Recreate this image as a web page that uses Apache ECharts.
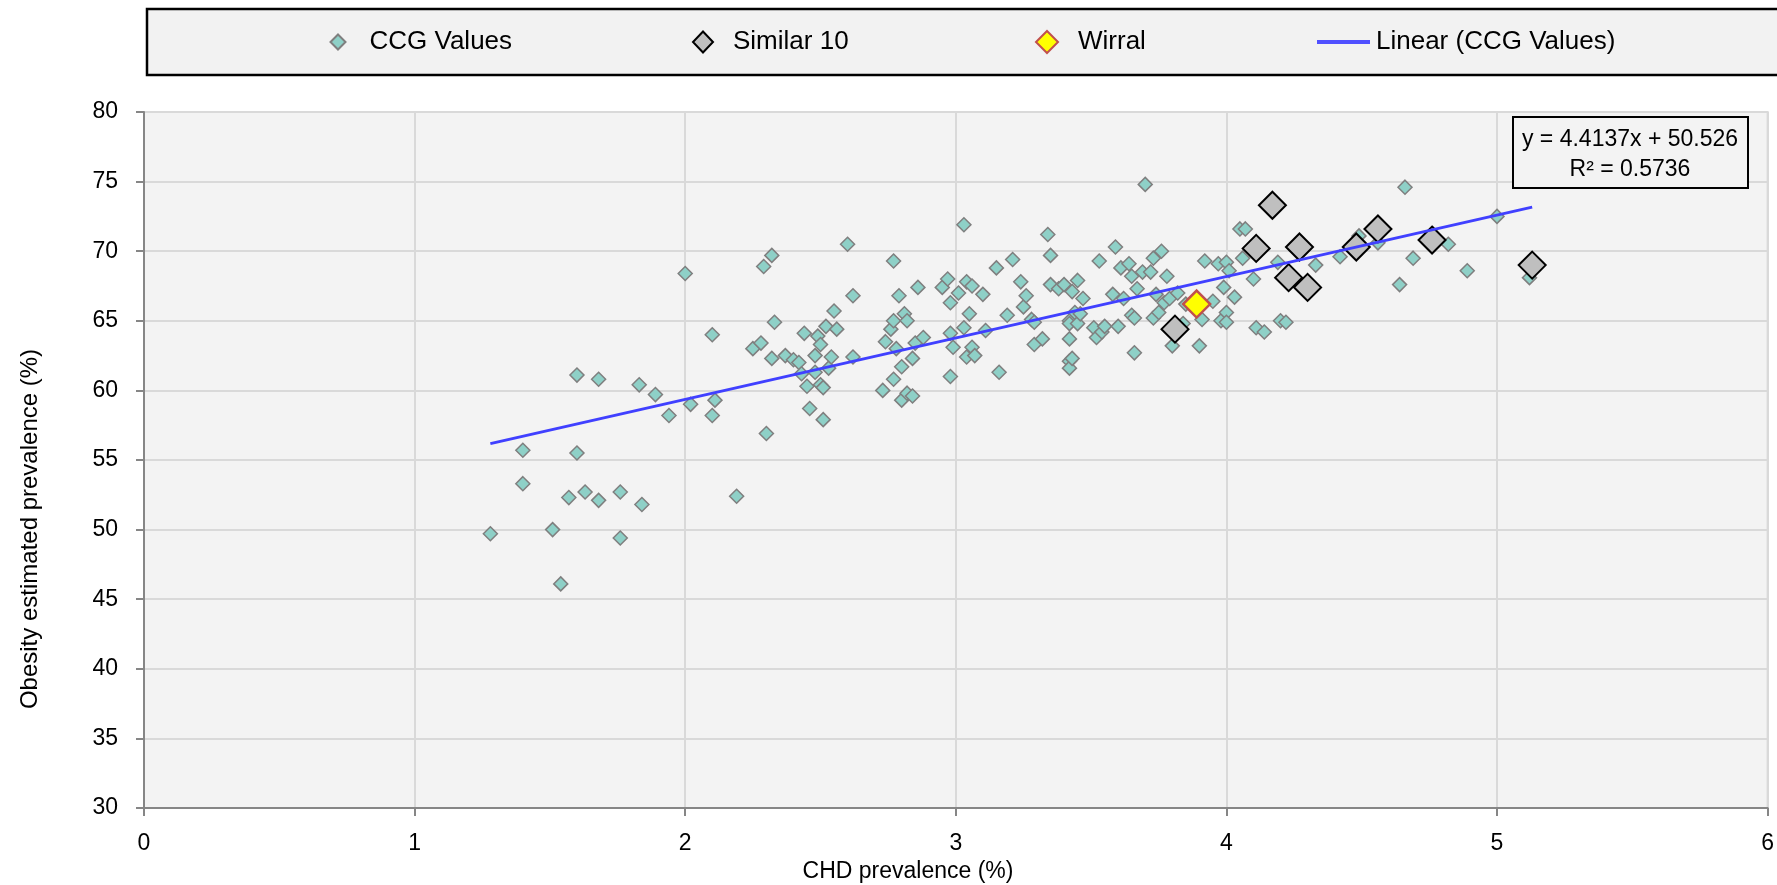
<!DOCTYPE html>
<html>
<head>
<meta charset="utf-8">
<script src="https://cdn.jsdelivr.net/npm/echarts@6/dist/echarts.min.js"></script>
<style>
html,body{margin:0;padding:0;background:#fff;}
#chart{width:1777px;height:885px;}
</style>
</head>
<body>
<div id="chart"></div>
<script>
// ---- data ----
const ccgX = [1.28,1.40,1.40,1.51,1.54,1.57,1.60,1.60,1.63,1.68,1.68,1.76,1.76,1.83,1.84,1.89,1.94,2.00,2.02,2.10,
  2.10,2.11,2.19,2.25,2.28,2.29,2.30,2.32,2.32,2.33,2.37,2.40,2.42,2.43,2.44,2.45,2.46,2.48,2.48,2.49,
  2.50,2.50,2.51,2.51,2.52,2.53,2.54,2.55,2.56,2.60,2.62,2.62,2.73,2.74,2.76,2.77,2.77,2.77,2.78,2.79,
  2.80,2.80,2.81,2.82,2.82,2.84,2.84,2.85,2.86,2.88,2.95,2.97,2.98,2.98,2.98,2.99,3.01,3.03,3.03,3.04,
  3.04,3.05,3.06,3.06,3.07,3.10,3.11,3.15,3.16,3.19,3.21,3.24,3.25,3.26,3.28,3.29,3.29,3.32,3.34,3.35,
  3.35,3.38,3.40,3.42,3.42,3.42,3.42,3.42,3.43,3.43,3.44,3.45,3.45,3.46,3.47,3.51,3.52,3.53,3.54,3.55,
  3.58,3.59,3.60,3.61,3.62,3.64,3.65,3.65,3.66,3.66,3.67,3.69,3.70,3.72,3.73,3.73,3.74,3.75,3.76,3.77,
  3.78,3.79,3.80,3.82,3.84,3.85,3.90,3.91,3.92,3.95,3.97,3.98,3.99,4.00,4.00,4.00,4.01,4.03,4.05,4.07,
  4.06,4.10,4.11,4.14,4.19,4.20,4.22,4.33,4.42,4.49,4.56,4.64,4.66,4.69,4.82,4.89,5.00,5.12];
const ccgY = [49.7,55.7,53.3,50.0,46.1,52.3,61.1,55.5,52.7,60.8,52.1,52.7,49.4,60.4,51.8,59.7,58.2,68.4,59.0,64.0,
  58.2,59.3,52.4,63.0,63.4,68.9,56.9,69.7,62.3,64.9,62.5,62.2,62.0,61.2,64.1,60.3,58.7,61.3,62.5,63.9,
  63.3,60.4,57.9,60.2,64.6,61.6,62.4,65.7,64.4,70.5,66.8,62.4,60.0,63.5,64.4,69.3,65.0,60.8,63.0,66.8,
  59.3,61.7,65.5,59.8,65.0,59.6,62.3,63.4,67.4,63.8,67.4,68.0,64.1,61.0,66.3,63.1,67.0,71.9,64.5,62.4,
  67.8,65.5,67.5,63.1,62.5,66.9,64.3,68.8,61.3,65.4,69.4,67.8,66.0,66.8,65.1,63.3,64.9,63.7,71.2,69.7,
  67.6,67.3,67.6,65.0,62.1,61.6,64.8,63.7,67.1,62.3,65.6,67.9,64.8,65.5,66.6,64.5,63.8,69.3,64.2,64.6,
  66.9,70.3,64.6,68.8,66.6,69.1,65.4,68.2,65.2,62.7,67.3,68.5,74.8,68.5,65.2,69.5,66.9,65.6,70.0,66.3,
  68.2,66.6,63.2,67.0,64.8,66.2,63.2,65.1,69.3,66.4,69.1,65.0,67.4,69.2,65.6,64.9,68.6,66.7,71.6,71.6,
  69.5,68.0,64.5,64.2,69.2,65.0,64.9,69.0,69.6,71.1,70.6,67.6,74.6,69.5,70.5,68.6,72.5,68.1];
const similarX = [3.81,4.11,4.17,4.23,4.27,4.30,4.48,4.56,4.76,5.13];
const similarY = [64.4,70.2,73.3,68.1,70.3,67.4,70.3,71.6,70.8,69.0];
const wirralX = [3.89];
const wirralY = [66.2];
const trendSlope = 4.4137;
const trendIntercept = 50.526;
const trendR2 = 0.5736;
const seriesNames = ['CCG Values', 'Similar 10', 'Wirral', 'Linear (CCG Values)'];
const xAxisTitle = 'CHD prevalence (%)';
const yAxisTitle = 'Obesity estimated prevalence (%)';

const zip = (xs, ys) => xs.map((x, i) => [x, ys[i]]);
// all highlighted CCGs are part of the CCG set the trend line was fitted to
const allX = ccgX.concat(similarX, wirralX);
const xMin = Math.min(...allX), xMax = Math.max(...allX);
const trendData = [[xMin, trendSlope * xMin + trendIntercept], [xMax, trendSlope * xMax + trendIntercept]];

const FONT = 'Liberation Sans';
const chart = echarts.init(document.getElementById('chart'), null, {renderer: 'canvas'});

const legendBase = {
  top: 27, padding: 0, selectedMode: false,
  textStyle: {fontFamily: FONT, fontSize: 26, color: '#000', lineHeight: 30}
};

chart.setOption({
  animation: false,
  backgroundColor: '#fff',
  grid: {left: 144, right: 4, top: 112, bottom: 77, show: true, backgroundColor: '#f3f3f3', borderColor: '#d9d9d9', borderWidth: 2},
  xAxis: {
    type: 'value', min: 0, max: 6, interval: 1,
    axisLine: {show: true, onZero: false, lineStyle: {color: '#868686', width: 2}},
    axisTick: {show: true, length: 8, lineStyle: {color: '#868686', width: 2}},
    axisLabel: {fontFamily: FONT, fontSize: 23, color: '#000', margin: 24},
    splitLine: {show: true, lineStyle: {color: '#d9d9d9', width: 2}}
  },
  yAxis: {
    type: 'value', min: 30, max: 80, interval: 5,
    axisLine: {show: true, onZero: false, lineStyle: {color: '#868686', width: 2}},
    axisTick: {show: true, length: 8, lineStyle: {color: '#868686', width: 2}},
    axisLabel: {fontFamily: FONT, fontSize: 23, color: '#000', margin: 26},
    splitLine: {show: true, lineStyle: {color: '#d9d9d9', width: 2}}
  },
  legend: [
    Object.assign({}, legendBase, {left: 329.5, itemWidth: 15, itemHeight: 15,
      data: [seriesNames[0]], textStyle: Object.assign({}, legendBase.textStyle, {padding: [0, 0, 0, 19]})}),
    Object.assign({}, legendBase, {left: 692, itemWidth: 20, itemHeight: 21,
      data: [seriesNames[1]], textStyle: Object.assign({}, legendBase.textStyle, {padding: [0, 0, 0, 15]})}),
    Object.assign({}, legendBase, {left: 1035, itemWidth: 22, itemHeight: 22,
      data: [seriesNames[2]], textStyle: Object.assign({}, legendBase.textStyle, {padding: [0, 0, 0, 15]})}),
    Object.assign({}, legendBase, {left: 1317, itemWidth: 53, itemHeight: 4,
      data: [{name: seriesNames[3], icon: 'rect', itemStyle: {color: '#5050ff'}}],
      textStyle: Object.assign({}, legendBase.textStyle, {padding: [0, 0, 0, 1]})})
  ],
  graphic: [
    {type: 'rect', z: -1, shape: {x: 147, y: 9, width: 1640, height: 66},
      style: {fill: '#f2f2f2', stroke: '#000', lineWidth: 2.5}},
    {type: 'rect', z: 10, shape: {x: 1513, y: 117, width: 235, height: 71},
      style: {fill: '#f3f3f3', stroke: '#000', lineWidth: 2}},
    {type: 'text', z: 11, style: {
      text: 'y = ' + trendSlope + 'x + ' + trendIntercept, x: 1630, y: 140,
      font: '23px "' + FONT + '"', fill: '#000', textAlign: 'center', textVerticalAlign: 'middle'}},
    {type: 'text', z: 11, style: {
      text: 'R\u00B2 = ' + trendR2, x: 1630, y: 170,
      font: '23px "' + FONT + '"', fill: '#000', textAlign: 'center', textVerticalAlign: 'middle'}},
    {type: 'text', style: {
      text: xAxisTitle, x: 908, y: 872,
      font: '23px "' + FONT + '"', fill: '#000', textAlign: 'center', textVerticalAlign: 'middle'}},
    {type: 'text', rotation: Math.PI / 2, x: 30, y: 529, style: {
      text: yAxisTitle, x: 0, y: 0,
      font: '24px "' + FONT + '"', fill: '#000', textAlign: 'center', textVerticalAlign: 'middle'}}
  ],
  series: [
    {name: seriesNames[0], type: 'scatter', symbol: 'diamond', symbolSize: 14, z: 2,
      itemStyle: {color: '#8ed0c7', borderColor: '#7f7f7f', borderWidth: 1.5, opacity: 1},
      data: zip(ccgX, ccgY)},
    {name: seriesNames[1], type: 'scatter', symbol: 'diamond', symbolSize: 27, z: 3,
      itemStyle: {color: '#bfbfbf', borderColor: '#000', borderWidth: 2, opacity: 1},
      data: zip(similarX, similarY)},
    {name: seriesNames[2], type: 'scatter', symbol: 'diamond', symbolSize: 27, z: 4,
      itemStyle: {color: '#ffff00', borderColor: '#c0504d', borderWidth: 2.5, opacity: 1},
      data: zip(wirralX, wirralY)},
    {name: seriesNames[3], type: 'line', z: 5, showSymbol: false, symbol: 'none',
      color: '#4040ff', lineStyle: {color: '#4040ff', width: 3}, data: trendData}
  ]
});
</script>
</body>
</html>
